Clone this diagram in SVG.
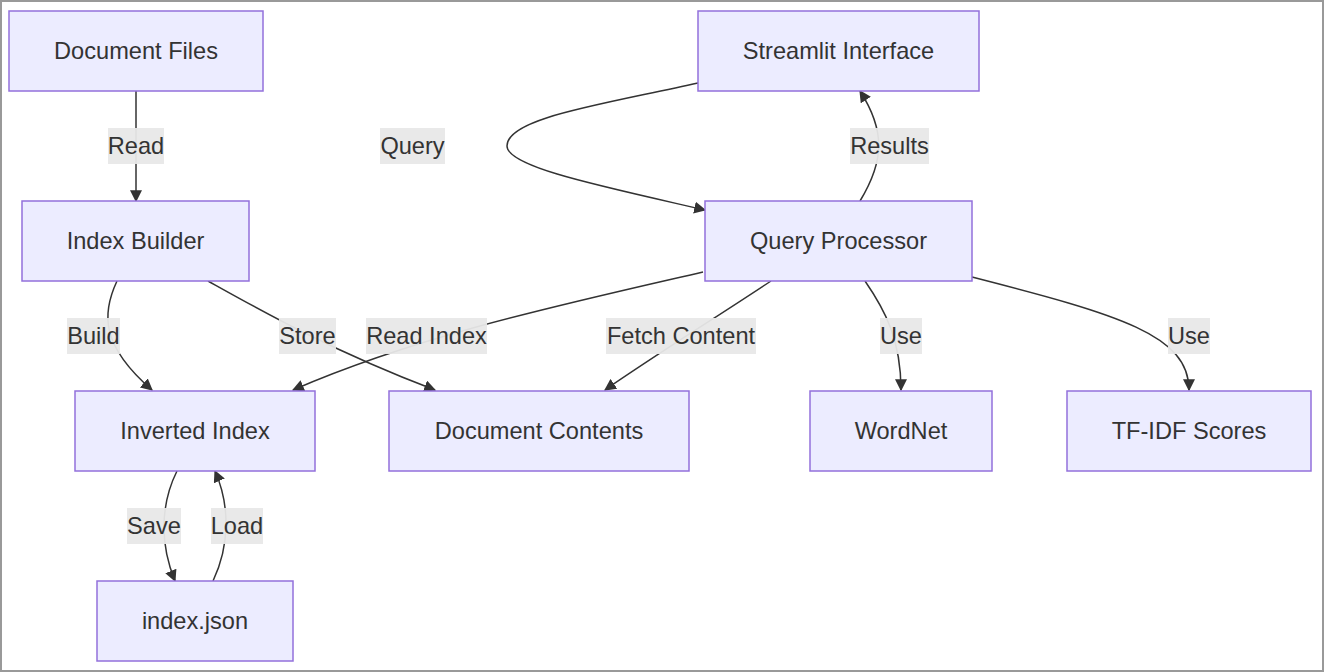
<svg xmlns="http://www.w3.org/2000/svg" width="1324" height="672" viewBox="0 0 1324 672">
<defs>
<style>
.node rect{fill:#ECECFF;stroke:#9370DB;stroke-width:1.5}
text{font-family:"Liberation Sans",Arial,sans-serif;font-size:23.6px;fill:#333;text-anchor:middle}
.edges path{fill:none;stroke:#333;stroke-width:1.5}
.lbl rect{fill:#E8E8E8;opacity:0.95}
</style>
<marker id="arr" viewBox="0 0 10 10" refX="9" refY="5" markerUnits="userSpaceOnUse" markerWidth="12" markerHeight="12" orient="auto">
<path d="M0,0 L10,5 L0,10 z" fill="#333"/>
</marker>
</defs>
<rect x="1" y="1" width="1322" height="670" fill="#fff" stroke="#999" stroke-width="2"/>

<g class="edges">
<path d="M136,91 L136,201" marker-end="url(#arr)"/>
<path d="M117,281 C102,313 100,345 152,390" marker-end="url(#arr)"/>
<path d="M208,281 C260,310 330,350 435,390" marker-end="url(#arr)"/>
<path d="M703,272 C560,305 420,335 293,390" marker-end="url(#arr)"/>
<path d="M771,281 C720,315 660,352 605,390" marker-end="url(#arr)"/>
<path d="M865,281 C885,310 901,340 901,390" marker-end="url(#arr)"/>
<path d="M972,277 C1120,315 1189,335 1189,390" marker-end="url(#arr)"/>
<path d="M698,83 C600,105 507,118 507,146 C507,167 600,186 705,210" marker-end="url(#arr)"/>
<path d="M860,201 C885,160 885,130 860,91" marker-end="url(#arr)"/>
<path d="M177,471 C160,505 160,545 175,581" marker-end="url(#arr)"/>
<path d="M213,581 C230,545 230,505 215,471" marker-end="url(#arr)"/>
</g>

<g class="lbl">
<rect x="108" y="128" width="56" height="36"/><text x="136" y="154">Read</text>
<rect x="380" y="128" width="65" height="36"/><text x="412.5" y="154">Query</text>
<rect x="850" y="128" width="79" height="36"/><text x="889.5" y="154">Results</text>
<rect x="67" y="318" width="53" height="36"/><text x="93.5" y="344">Build</text>
<rect x="279" y="318" width="57" height="36"/><text x="307.5" y="344">Store</text>
<rect x="366" y="318" width="121" height="36"/><text x="426.5" y="344">Read Index</text>
<rect x="606" y="318" width="150" height="36"/><text x="681" y="344">Fetch Content</text>
<rect x="880" y="318" width="42" height="36"/><text x="901" y="344">Use</text>
<rect x="1168" y="318" width="42" height="36"/><text x="1189" y="344">Use</text>
<rect x="127" y="508" width="54" height="36"/><text x="154" y="534">Save</text>
<rect x="211" y="508" width="52" height="36"/><text x="237" y="534">Load</text>
</g>

<g id="docfiles" class="node"><rect x="9" y="11" width="254" height="80"/><text x="136" y="59">Document Files</text></g>
<g id="indexbuilder" class="node"><rect x="22" y="201" width="227" height="80"/><text x="135.5" y="249">Index Builder</text></g>
<g id="streamlit" class="node"><rect x="698" y="11" width="281" height="80"/><text x="838.5" y="59">Streamlit Interface</text></g>
<g id="queryproc" class="node"><rect x="705" y="201" width="267" height="80"/><text x="838.5" y="249">Query Processor</text></g>
<g id="invindex" class="node"><rect x="75" y="391" width="240" height="80"/><text x="195" y="439">Inverted Index</text></g>
<g id="doccontents" class="node"><rect x="389" y="391" width="300" height="80"/><text x="539" y="439">Document Contents</text></g>
<g id="wordnet" class="node"><rect x="810" y="391" width="182" height="80"/><text x="901" y="439">WordNet</text></g>
<g id="tfidf" class="node"><rect x="1067" y="391" width="244" height="80"/><text x="1189" y="439">TF-IDF Scores</text></g>
<g id="indexjson" class="node"><rect x="97" y="581" width="196" height="80"/><text x="195" y="629">index.json</text></g>
</svg>
